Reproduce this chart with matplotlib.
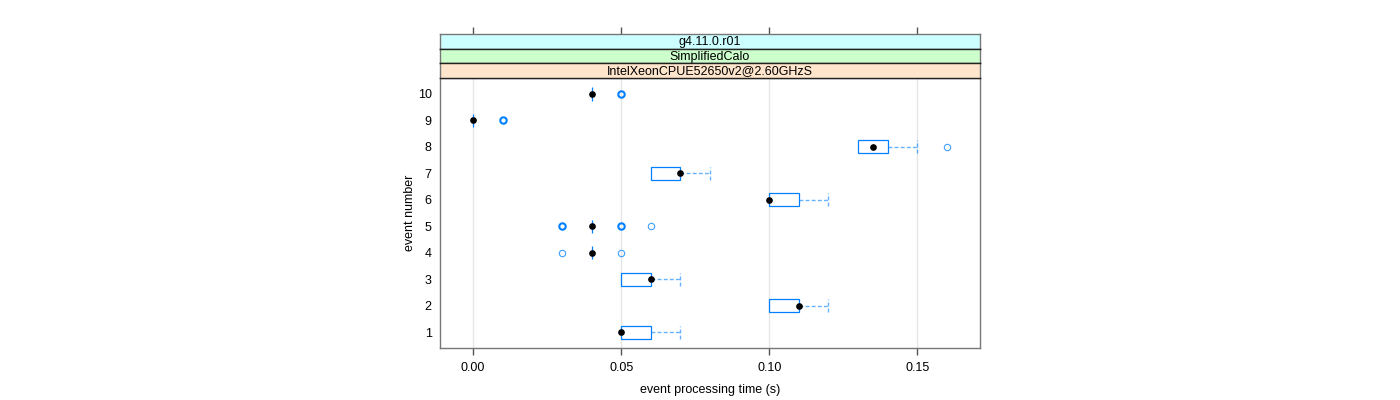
import numpy as np
import matplotlib
matplotlib.use('Agg')
import matplotlib.pyplot as plt
from matplotlib.patches import Rectangle

plt.rcParams['font.family'] = ['Liberation Sans', 'DejaVu Sans']

# box statistics per event (seconds)
events = [1, 2, 3, 4, 5, 6, 7, 8, 9, 10]
q1 = [0.05, 0.10, 0.05, 0.04, 0.04, 0.10, 0.06, 0.13, 0.00, 0.04]
med = [0.05, 0.11, 0.06, 0.04, 0.04, 0.10, 0.07, 0.135, 0.00, 0.04]
q3 = [0.06, 0.11, 0.06, 0.04, 0.04, 0.11, 0.07, 0.14, 0.00, 0.04]
whi = [0.07, 0.12, 0.07, 0.04, 0.04, 0.12, 0.08, 0.15, 0.00, 0.04]
outliers = {
    4: [0.03, 0.05],
    5: [0.03, 0.03, 0.03, 0.05, 0.05, 0.06],
    8: [0.16],
    9: [0.01, 0.01, 0.01],
    10: [0.05, 0.05],
}
strips = ['g4.11.0.r01', 'SimplifiedCalo', 'IntelXeonCPUE52650v2@2.60GHzS']
strip_colors = ['#CCFFFF', '#CCFFCC', '#FFE5CC']
xticks = [0.00, 0.05, 0.10, 0.15]

W, H = 1400, 400
fig = plt.figure(figsize=(14, 4), dpi=100)

px_l, px_r, px_t, px_b = 440, 980, 78, 348
ax = fig.add_axes([px_l / W, 1 - px_b / H, (px_r - px_l) / W, (px_b - px_t) / H])

blue = '#0080ff'
half = 0.25
dash = (0, (2.8, 1.6))
for i, ev in enumerate(events):
    # box
    ax.add_patch(Rectangle((q1[i], ev - half), q3[i] - q1[i], 2 * half,
                           fill=False, edgecolor=blue, linewidth=0.9, zorder=3))
    # upper whisker
    if whi[i] > q3[i]:
        ax.plot([q3[i], whi[i]], [ev, ev], color=blue, alpha=0.6,
                linestyle=dash, linewidth=1.0, zorder=2)
        ax.plot([whi[i], whi[i]], [ev - half, ev + half], color=blue, alpha=0.6,
                linestyle=dash, linewidth=1.0, zorder=2)
    # median dot
    ax.plot(med[i], ev, 'o', color='black', markersize=3.8, zorder=4)
    # outliers
    if ev in outliers:
        vals, counts = np.unique(outliers[ev], return_counts=True)
        for v, c in zip(vals, counts):
            ax.plot(v, ev, 'o', markerfacecolor='none', markeredgecolor=blue,
                    alpha=0.75 if c == 1 else 1.0,
                    markersize=4.6, markeredgewidth=0.8 if c == 1 else 1.5, zorder=3)

for xt in xticks:
    ax.axvline(xt, color='#e6e6e6', linewidth=1.0, zorder=0)

ax.set_xlim(-0.0112, 0.1712)
ax.set_ylim(0.4, 10.6)
ax.set_xticks(xticks)
ax.set_xticklabels(['%.2f' % t for t in xticks], fontsize=9)
ax.set_yticks(events)
ax.set_yticklabels([str(e) for e in events], fontsize=9)
ax.tick_params(axis='x', direction='out', length=5, width=1, color='#555555', pad=5)
ax.tick_params(axis='y', length=0, pad=6)
for sp in ax.spines.values():
    sp.set_color('#777777')
    sp.set_linewidth(1.0)
ax.set_xlabel('event processing time (s)', fontsize=9, labelpad=7)
ax.set_ylabel('event number', fontsize=9, labelpad=1.5)

# strips
strip_top = 34
strip_h = (px_t - strip_top) / 3.0
for k, (lab, col) in enumerate(zip(strips, strip_colors)):
    y0 = strip_top + k * strip_h
    sax = fig.add_axes([px_l / W, 1 - (y0 + strip_h) / H, (px_r - px_l) / W, strip_h / H])
    sax.set_facecolor(col)
    sax.set_xlim(ax.get_xlim())
    sax.set_ylim(0, 1)
    sax.set_yticks([])
    sax.text(0.5, 0.45, lab, transform=sax.transAxes, ha='center', va='center', fontsize=9)
    for sp in sax.spines.values():
        sp.set_color('#222222')
        sp.set_linewidth(1.0)
    sax.spines['left'].set_color('#777777')
    sax.spines['right'].set_color('#777777')
    if k == 0:
        sax.spines['top'].set_color('#777777')
        sax.set_xticks(xticks)
        sax.tick_params(axis='x', top=True, bottom=False, labeltop=False, labelbottom=False,
                        direction='out', length=5, width=1, color='#555555')
    else:
        sax.set_xticks([])

fig.savefig('out.png', dpi=100)
